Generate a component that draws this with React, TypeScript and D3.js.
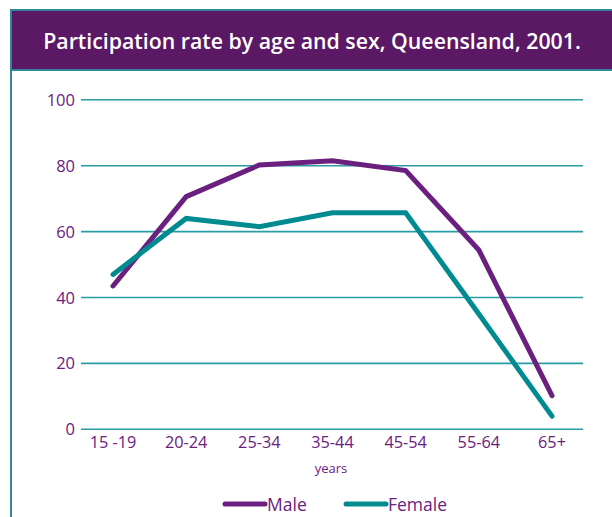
import React from "react";
import * as d3 from "d3";

const categories = ["15 -19", "20-24", "25-34", "35-44", "45-54", "55-64", "65+"];
const maleValues = [43.5, 70.6, 80.2, 81.5, 78.5, 54.4, 10.2];
const femaleValues = [47.0, 64.0, 61.5, 65.7, 65.7, 35.0, 4.0];
const yTicks = [0, 20, 40, 60, 80, 100];
const seriesNames = ["Male", "Female"];

const PURPLE = "#6b2080";
const HEADER = "#5b1865";
const TEAL = "#008b91";
const BORDER = "#2e8896";
const FONT = "'Open Sans', 'Noto Sans', sans-serif";

export default function App() {
  const W = 612, H = 517;
  const x = d3.scalePoint<string>().domain(categories).range([113, 552]);
  const y = d3.scaleLinear().domain([0, 100]).range([429.3, 99.8]);
  const line = d3
    .line<number>()
    .x((_, i) => x(categories[i]) as number)
    .y((d) => y(d));
  const series = [
    { name: seriesNames[0], values: maleValues, color: PURPLE },
    { name: seriesNames[1], values: femaleValues, color: TEAL },
  ];
  return (
    <svg
      width={W}
      height={H}
      style={{ position: "absolute", left: 0, top: 0, background: "#fff" }}
    >
      {/* header */}
      <rect x={10} y={9} width={W - 10} height={62} fill={BORDER} />
      <rect x={12} y={11} width={W - 12} height={58} fill={HEADER} />
      <rect x={10} y={9} width={2} height={H - 9} fill={BORDER} />
      <text
        x={312}
        y={48.5}
        textAnchor="middle"
        fill="#fff"
        fontFamily={FONT}
        fontSize={21.3}
        fontWeight={600}
      >
        Participation rate by age and sex, Queensland, 2001.
      </text>
      {/* grid */}
      {yTicks.map((t) => (
        <g key={t}>
          <line x1={81} x2={583} y1={y(t)} y2={y(t)} stroke="#2a9ca3" strokeWidth={1.6} />
          <text
            x={75}
            y={y(t) + 6}
            textAnchor="end"
            fill={PURPLE}
            fontFamily={FONT}
            fontSize={16.5}
          >
            {t}
          </text>
        </g>
      ))}
      {categories.map((c) => (
        <text
          key={c}
          x={x(c)}
          y={448}
          textAnchor="middle"
          fill={PURPLE}
          fontFamily={FONT}
          fontSize={16.3}
        >
          {c}
        </text>
      ))}
      <text x={331} y={473} textAnchor="middle" fill={PURPLE} fontFamily={FONT} fontSize={13}>
        years
      </text>
      {series.map((s) => (
        <path
          key={s.name}
          d={line(s.values) || ""}
          fill="none"
          stroke={s.color}
          strokeWidth={5}
          strokeLinejoin="miter"
          strokeLinecap="round"
        />
      ))}
      {/* legend */}
      {series.map((s, i) => {
        const lx = i === 0 ? 223 : 344;
        return (
          <g key={s.name}>
            <line x1={lx + 2} x2={lx + 42} y1={504} y2={504} stroke={s.color} strokeWidth={5} strokeLinecap="round" />
            <text x={lx + 44} y={511} fill={PURPLE} fontFamily={FONT} fontSize={17.5}>
              {s.name}
            </text>
          </g>
        );
      })}
    </svg>
  );
}
